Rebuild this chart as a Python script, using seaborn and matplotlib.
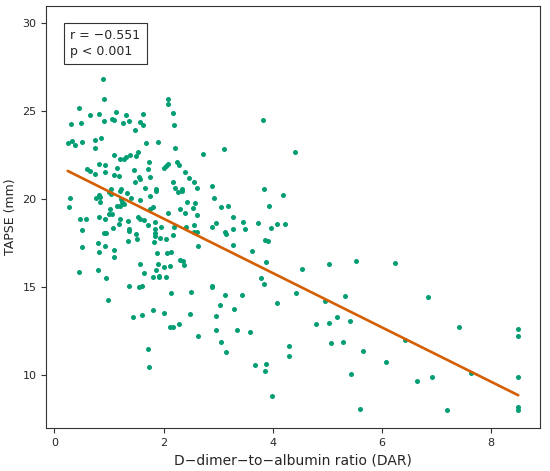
import matplotlib
matplotlib.use("Agg")
import matplotlib.pyplot as plt
import seaborn as sns
import numpy as np
import pandas as pd

# D-dimer-to-albumin ratio (DAR)
dar = [
    0.81, 0.886, 0.90, 0.45, 2.08, 2.08, 0.66, 0.81, 1.12, 1.32, 1.63, 2.17,
    0.31, 0.49, 0.90, 1.05, 1.09, 1.25, 1.36, 1.56, 1.62, 2.20, 1.48,
    0.245, 0.324, 0.379, 0.51, 0.745, 0.855, 0.75, 1.67, 1.90, 2.21, 2.72,
    1.10, 1.20, 1.28, 1.32, 1.38, 1.49, 1.54, 0.59, 0.65, 0.82, 0.93, 0.93,
    0.74, 1.14, 1.09, 1.18, 1.45, 1.74, 1.71, 1.55, 1.56, 1.47, 1.75, 2.00,
    2.04, 2.09, 2.24, 2.29, 2.39, 2.46, 2.55, 2.17,
    1.03, 1.22, 1.66, 1.87, 2.21, 2.34, 2.61,
    0.29, 0.27, 0.81, 0.77, 0.84, 0.84, 1.00, 1.03, 1.21, 1.33, 1.87, 1.76,
    1.56, 2.26, 2.34, 1.40, 1.22, 1.23, 1.28, 1.15, 1.20, 1.01, 1.00, 1.05,
    2.43, 2.58, 1.80, 1.76, 2.09, 2.31, 2.39, 2.54, 2.61, 0.47, 0.58, 0.81,
    0.93, 1.20, 1.34, 1.53, 1.56, 1.65, 1.85, 1.72, 1.95, 1.84, 2.20, 2.41,
    2.55, 2.62, 2.56, 0.51, 1.18, 1.08, 0.91, 0.95, 1.36, 1.36, 1.49, 1.51,
    1.85, 1.85, 1.93, 1.82, 2.04, 2.17, 1.35, 0.51, 0.79, 0.92, 0.82, 1.09,
    1.09, 2.64, 1.88, 2.06, 2.13, 2.30, 2.36, 2.37, 1.57, 1.89, 2.01, 2.12,
    1.86, 1.65, 0.45, 0.79, 1.81, 1.91, 2.05, 1.92, 0.95, 1.36, 1.55, 1.61,
    2.50, 2.13, 0.98, 1.81,
    1.44, 1.61, 2.01, 2.49, 2.12, 2.18, 2.29, 2.64, 1.71, 1.74,
    3.82, 3.10, 4.41, 2.88, 3.84,
    4.19, 2.92, 3.05, 3.18, 3.93, 3.27, 2.97, 2.88, 3.46, 3.28, 3.50, 3.73,
    4.08, 4.23, 3.96, 3.13, 3.15, 3.86, 3.91, 3.28, 3.63, 3.88, 5.03, 5.53,
    4.54, 3.79, 3.84, 2.88, 2.89, 3.13, 3.43, 4.43, 4.96, 5.32, 3.04, 4.08,
    3.30,
    2.96, 2.96, 3.35, 3.58, 3.05, 3.14, 3.68, 3.88, 3.86, 4.30, 4.30, 3.98,
    4.79, 5.03, 5.18, 5.42, 5.06, 5.28, 5.65, 5.43, 5.60,
    6.25, 6.84, 7.41, 8.50, 8.50, 6.43, 6.08, 6.64, 6.92, 7.64, 8.50, 7.19,
    8.50, 8.50,
]

# TAPSE (mm)
tapse = [
    29.85, 26.85, 25.70, 25.17, 25.68, 25.40, 24.79, 24.86, 24.94, 24.77, 24.83, 24.89,
    24.28, 24.32, 24.45, 24.56, 24.52, 24.34, 24.47, 24.41, 24.20, 24.22, 23.92,
    23.18, 23.31, 23.09, 23.27, 23.37, 23.48, 22.93, 23.18, 23.27, 22.93, 22.57,
    22.50, 22.29, 22.27, 22.39, 22.52, 22.46, 22.69, 21.70, 21.61, 21.99, 21.93, 21.55,
    21.44, 21.80, 21.38, 21.32, 21.68, 22.14, 21.70, 21.28, 21.14, 20.97, 21.25, 21.78,
    21.89, 22.02, 22.14, 21.95, 21.55, 21.23, 20.97, 20.98,
    20.57, 20.57, 20.64, 20.57, 20.66, 20.57, 20.63,
    20.06, 19.56, 20.24, 20.06, 20.11, 19.85, 20.41, 20.30, 20.49, 20.38, 20.47, 20.19,
    19.94, 20.40, 20.49, 20.06, 20.00, 19.85, 19.72, 19.64, 19.60, 19.47, 19.15, 19.15,
    19.83, 19.81, 19.58, 19.47, 19.24, 19.47, 19.20, 19.50, 19.09, 18.88, 18.88, 19.01,
    18.86, 18.90, 18.77, 19.01, 18.90, 18.82, 18.73, 18.54, 18.44, 18.33, 18.41, 18.44,
    18.56, 18.16, 18.16, 18.24, 18.61, 18.35, 18.10, 18.10, 18.30, 18.22, 18.03, 17.73,
    18.10, 17.91, 17.82, 17.59, 17.73, 17.99, 17.61, 17.29, 17.50, 17.36, 16.99, 17.12,
    16.70, 17.36, 16.93, 16.95, 16.99, 16.53, 16.48, 16.28, 16.31, 16.31, 16.14, 16.23,
    15.97, 15.81, 15.87, 16.00, 15.57, 15.66, 15.59, 15.60, 15.51, 15.06, 15.02, 15.07,
    14.75, 14.66, 14.30, 13.72,
    13.33, 13.43, 13.52, 13.48, 12.74, 12.74, 12.90, 12.23, 11.49, 10.45,
    24.51, 22.88, 22.69, 20.76, 20.60,
    20.24, 20.07, 19.55, 19.62, 19.62, 18.98, 18.67, 18.43, 18.73, 18.33, 18.33, 18.64,
    18.61, 18.61, 18.39, 18.14, 18.03, 17.69, 17.61, 17.39, 17.08, 16.45, 16.32, 16.48,
    16.02, 15.55, 15.17, 15.09, 15.00, 14.56, 14.56, 14.66, 14.24, 14.52, 13.99, 14.09,
    13.75,
    13.39, 12.56, 12.57, 12.44, 11.88, 11.31, 10.60, 10.66, 10.23, 11.65, 11.08, 8.84,
    12.93, 12.97, 13.31, 13.07, 11.85, 11.89, 11.36, 10.07, 8.07,
    16.38, 14.47, 12.73, 12.65, 12.23, 12.01, 10.74, 9.69, 9.90, 10.11, 9.92, 8.05,
    8.18, 8.03,
]

stats_text = "r = \u22120.551\np < 0.001"

df = pd.DataFrame({"DAR": dar, "TAPSE": tapse})

sns.set_style("ticks")
plt.rcParams["font.family"] = ["DejaVu Sans"]

fig = plt.figure(figsize=(5.5, 4.71), dpi=100)
ax = fig.add_axes([0.084, 0.091, 0.898, 0.897])

sns.regplot(data=df, x="DAR", y="TAPSE", ax=ax, ci=None,
            scatter_kws={"color": "#029e73", "s": 13, "linewidths": 0, "alpha": 1},
            line_kws={"color": "#d55e00", "linewidth": 1.9})

ax.set_xlim(-0.15, 8.9)
ax.set_ylim(7.0, 31.0)
ax.set_xticks([0, 2, 4, 6, 8])
ax.set_yticks([10, 15, 20, 25, 30])
ax.tick_params(labelsize=8, length=3.5, width=0.8, color="#333333")
for s in ax.spines.values():
    s.set_visible(True)
    s.set_linewidth(0.8)
    s.set_color("#333333")

ax.set_xlabel("D\u2212dimer\u2212to\u2212albumin ratio (DAR)", fontsize=10)
ax.set_ylabel("TAPSE (mm)", fontsize=9)

ax.text(0.049, 0.945, stats_text, transform=ax.transAxes, fontsize=9,
        va="top", ha="left", linespacing=1.3, zorder=10,
        bbox=dict(boxstyle="square,pad=0.5", facecolor="white",
                  edgecolor="#333333", linewidth=0.8))

fig.savefig("out.png", dpi=100)
